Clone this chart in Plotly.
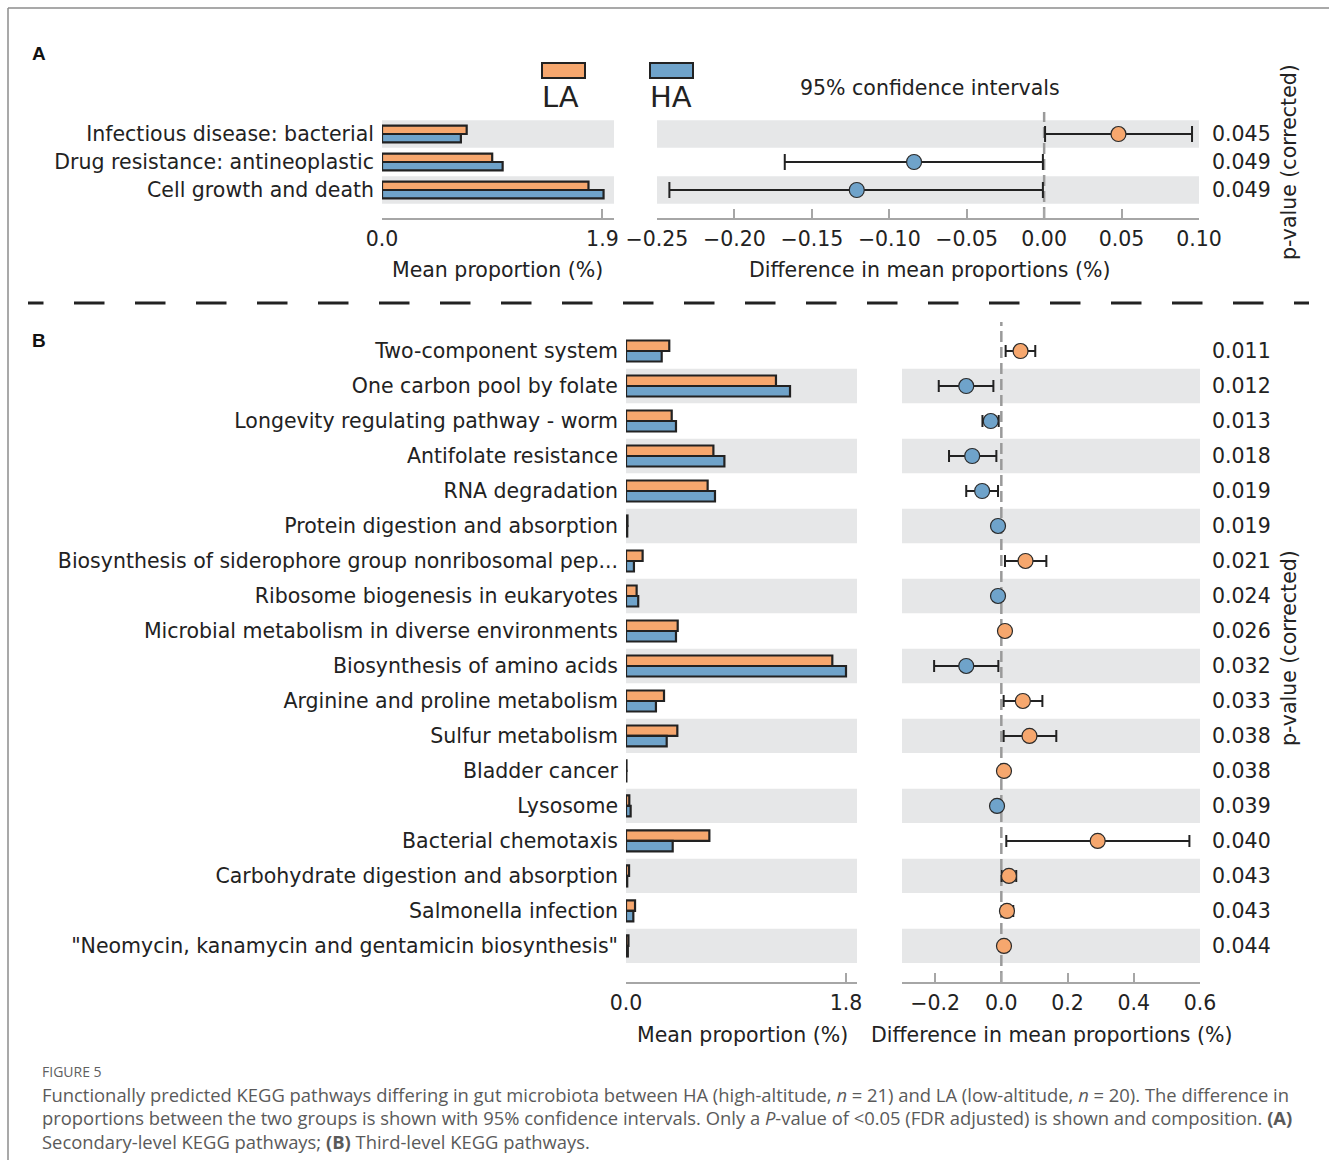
import plotly.graph_objects as go

W, H = 1329, 1171

LA_COLOR = "#F6A76E"
HA_COLOR = "#6FA3CA"
BAND = "#E6E7E8"
INK = "#222222"
AXIS_GREY = "#A6A6A6"
ZERO_GREY = "#9A9A9A"
FONT = "DejaVu Sans"
FS = 20.5
CAPTION_FONT = "Open Sans"

# ---- Panel A: secondary-level KEGG pathways ----
a_pathways = [
    "Infectious disease: bacterial",
    "Drug resistance: antineoplastic",
    "Cell growth and death",
]
a_mean_la = [0.73, 0.95, 1.78]
a_mean_ha = [0.68, 1.04, 1.91]
a_diff = [0.048, -0.084, -0.121]
a_ci_low = [0.0006, -0.1675, -0.242]
a_ci_high = [0.0955, -0.0008, -0.0008]
a_pvalues = ["0.045", "0.049", "0.049"]
a_bar_ticks = [0.0, 1.9]
a_diff_ticks = [-0.25, -0.20, -0.15, -0.10, -0.05, 0.00, 0.05, 0.10]

# ---- Panel B: third-level KEGG pathways ----
b_pathways = [
    "Two-component system",
    "One carbon pool by folate",
    "Longevity regulating pathway - worm",
    "Antifolate resistance",
    "RNA degradation",
    "Protein digestion and absorption",
    "Biosynthesis of siderophore group nonribosomal pep...",
    "Ribosome biogenesis in eukaryotes",
    "Microbial metabolism in diverse environments",
    "Biosynthesis of amino acids",
    "Arginine and proline metabolism",
    "Sulfur metabolism",
    "Bladder cancer",
    "Lysosome",
    "Bacterial chemotaxis",
    "Carbohydrate digestion and absorption",
    "Salmonella infection",
    "\"Neomycin, kanamycin and gentamicin biosynthesis\"",
]
b_mean_la = [0.354, 1.227, 0.374, 0.715, 0.668, 0.012, 0.136, 0.087, 0.423,
             1.688, 0.311, 0.420, 0.004, 0.027, 0.682, 0.025, 0.074, 0.020]
b_mean_ha = [0.292, 1.342, 0.409, 0.805, 0.728, 0.010, 0.065, 0.100, 0.409,
             1.800, 0.245, 0.333, 0.003, 0.038, 0.382, 0.010, 0.060, 0.015]
b_diff = [0.058, -0.106, -0.032, -0.088, -0.058, -0.010, 0.073, -0.010, 0.011,
          -0.106, 0.065, 0.085, 0.008, -0.013, 0.291, 0.023, 0.017, 0.008]
b_ci_low = [0.013, -0.189, -0.057, -0.158, -0.106, -0.012, 0.011, -0.012, 0.009,
            -0.203, 0.007, 0.007, 0.006, -0.015, 0.015, 0.001, 0.001, 0.006]
b_ci_high = [0.1025, -0.024, -0.008, -0.015, -0.010, -0.008, 0.136, -0.008, 0.013,
             -0.009, 0.124, 0.166, 0.010, -0.011, 0.568, 0.045, 0.036, 0.010]
b_pvalues = ["0.011", "0.012", "0.013", "0.018", "0.019", "0.019", "0.021", "0.024", "0.026",
             "0.032", "0.033", "0.038", "0.038", "0.039", "0.040", "0.043", "0.043", "0.044"]
b_bar_ticks = [0.0, 1.8]
b_diff_ticks = [-0.2, 0.0, 0.2, 0.4, 0.6]

caption_title = "FIGURE 5"
caption_lines = [
    "Functionally predicted KEGG pathways differing in gut microbiota between HA (high-altitude, <i>n</i> = 21) "
    "and LA (low-altitude, <i>n</i> = 20). The difference in",
    "proportions between the two groups is shown with 95% confidence intervals. Only a <i>P</i>-value of "
    "&lt;0.05 (FDR adjusted) is shown and composition. <b>(A)</b>",
    "Secondary-level KEGG pathways; <b>(B)</b> Third-level KEGG pathways.",
]


def px(x):
    return x / W


def py(y):
    return 1 - y / H


def fmt(v, nd):
    s = f"{v:.{nd}f}"
    return s.replace("-", "\u2212")


fig = go.Figure()
shapes = []
annotations = []


def add_panel(pathways, la, ha, diff, lo, hi, pvals, xbar, xdiff, yax, pval_label_y, cap):
    rows = list(range(len(pathways)))
    fig.add_trace(go.Bar(
        y=rows, x=la, orientation="h", xaxis=xbar, yaxis=yax,
        marker=dict(color=LA_COLOR, line=dict(color=INK, width=2.2)),
        showlegend=False, hoverinfo="skip",
    ))
    fig.add_trace(go.Bar(
        y=rows, x=ha, orientation="h", xaxis=xbar, yaxis=yax,
        marker=dict(color=HA_COLOR, line=dict(color=INK, width=2.2)),
        showlegend=False, hoverinfo="skip",
    ))
    colors = [LA_COLOR if d > 0 else HA_COLOR for d in diff]
    fig.add_trace(go.Scatter(
        x=diff, y=rows, mode="markers", xaxis=xdiff, yaxis=yax,
        marker=dict(size=15, color=colors, line=dict(color="#2A2A2A", width=1.2)),
        error_x=dict(type="data", symmetric=False,
                     array=[h - d for h, d in zip(hi, diff)],
                     arrayminus=[d - l for d, l in zip(diff, lo)],
                     color=INK, thickness=2, width=cap),
        showlegend=False, hoverinfo="skip",
    ))
    n = len(pathways)
    # alternate shaded rows, counted from the bottom row
    for i in rows:
        if (n - 1 - i) % 2 == 0:
            for xa in (xbar, xdiff):
                shapes.append(dict(type="rect", xref=f"{xa} domain", yref=yax,
                                   x0=0, x1=1, y0=i - 0.49, y1=i + 0.49,
                                   fillcolor=BAND, line=dict(width=0), layer="below"))
    shapes.append(dict(type="line", xref=xdiff, yref=f"{yax} domain",
                       x0=0, x1=0, y0=0, y1=1,
                       line=dict(color=ZERO_GREY, width=2.5, dash="11px,5px"), layer="below"))
    for i, p in zip(rows, pvals):
        annotations.append(dict(text=p, xref="paper", yref=yax, x=px(1210), y=i,
                                xanchor="left", yanchor="middle", showarrow=False,
                                font=dict(family=FONT, size=FS, color=INK)))
    annotations.append(dict(text="p-value (corrected)", xref="paper", yref="paper",
                            x=px(1289), y=py(pval_label_y), textangle=-90,
                            xanchor="center", yanchor="middle", showarrow=False,
                            font=dict(family=FONT, size=FS, color=INK)))


add_panel(a_pathways, a_mean_la, a_mean_ha, a_diff, a_ci_low, a_ci_high, a_pvalues,
          "x", "x2", "y", 162, 8)
add_panel(b_pathways, b_mean_la, b_mean_ha, b_diff, b_ci_low, b_ci_high, b_pvalues,
          "x3", "x4", "y2", 648, 6)

tickfont = dict(family=FONT, size=FS, color=INK)


def xaxis_cfg(dom, rng, ticks, nd, anchor):
    return dict(domain=[px(dom[0]), px(dom[1])], range=rng, anchor=anchor,
                tickvals=ticks, ticktext=[fmt(t, nd) for t in ticks],
                ticks="inside", ticklen=9, tickwidth=1.5, tickcolor=AXIS_GREY,
                showline=True, linecolor=AXIS_GREY, linewidth=2,
                showgrid=False, zeroline=False, tickfont=tickfont,
                ticklabelstandoff=1, automargin=False, fixedrange=True)


def yaxis_cfg(top, bottom, rng, labels, anchor):
    return dict(domain=[py(bottom), py(top)], range=rng, anchor=anchor,
                tickvals=list(range(len(labels))), ticktext=labels,
                ticks="", showline=False, showgrid=False, zeroline=False,
                tickfont=tickfont, ticklabelstandoff=7, automargin=False, fixedrange=True)


fig.update_layout(
    width=W, height=H,
    margin=dict(l=0, r=0, t=0, b=0, pad=0, autoexpand=False),
    paper_bgcolor="white", plot_bgcolor="rgba(0,0,0,0)",
    barmode="group", bargap=0.4, bargroupgap=0,
    font=dict(family=FONT, color=INK),
    xaxis=xaxis_cfg((382, 614), [0, 2.0], a_bar_ticks, 1, "y"),
    xaxis2=xaxis_cfg((657, 1199), [-0.25, 0.10], a_diff_ticks, 2, "y"),
    yaxis=yaxis_cfg(112, 218, [3.0, -0.786], a_pathways, "x"),
    xaxis3=xaxis_cfg((626, 857), [0, 1.89], b_bar_ticks, 1, "y2"),
    xaxis4=xaxis_cfg((902, 1200), [-0.3, 0.6], b_diff_ticks, 1, "y2"),
    yaxis2=yaxis_cfg(322, 982, [18.03, -0.829], b_pathways, "x3"),
)

# legend swatches
for x0, label, color in ((542, "LA", LA_COLOR), (650, "HA", HA_COLOR)):
    shapes.append(dict(type="rect", xref="paper", yref="paper",
                       x0=px(x0), x1=px(x0 + 43), y0=py(78), y1=py(63),
                       fillcolor=color, line=dict(color=INK, width=2)))
    annotations.append(dict(text=label, xref="paper", yref="paper", x=px(x0 - 2), y=py(97),
                            xanchor="left", yanchor="middle", showarrow=False,
                            font=dict(family=FONT, size=29, color=INK)))

annotations.append(dict(text="95% confidence intervals", xref="paper", yref="paper",
                        x=px(930), y=py(88), xanchor="center", yanchor="middle",
                        showarrow=False, font=dict(family=FONT, size=FS, color=INK)))

for txt, x, y in (("Mean proportion (%)", 498, 270),
                  ("Difference in mean proportions (%)", 930, 270),
                  ("Mean proportion (%)", 742, 1035),
                  ("Difference in mean proportions (%)", 1052, 1035)):
    annotations.append(dict(text=txt, xref="paper", yref="paper", x=px(x), y=py(y),
                            xanchor="center", yanchor="middle", showarrow=False,
                            font=dict(family=FONT, size=FS, color=INK)))

for txt, y in (("A", 53), ("B", 340)):
    annotations.append(dict(text=f"<b>{txt}</b>", xref="paper", yref="paper", x=px(30), y=py(y),
                            xanchor="left", yanchor="middle", showarrow=False,
                            font=dict(family="Liberation Sans", size=19, color="#111111")))

# dashed separator between the panels
sep_dash = "15.5px,30.5px," + ",".join(["30.5px,30.5px"] * 22)
shapes.append(dict(type="line", xref="paper", yref="paper",
                   x0=px(28), x1=px(1309), y0=py(303), y1=py(303),
                   line=dict(color=INK, width=3, dash=sep_dash)))

# outer frame (top and left rules)
shapes.append(dict(type="line", xref="paper", yref="paper", x0=px(8), x1=1, y0=py(8), y1=py(8),
                   line=dict(color="#8C8C8C", width=1.5)))
shapes.append(dict(type="line", xref="paper", yref="paper", x0=px(8), x1=px(8), y0=py(8), y1=py(1160),
                   line=dict(color="#8C8C8C", width=1.5)))

# caption
annotations.append(dict(text=caption_title, xref="paper", yref="paper", x=px(40), y=py(1071),
                        xanchor="left", yanchor="middle", showarrow=False,
                        font=dict(family=CAPTION_FONT, size=14, color="#606060")))
for k, line in enumerate(caption_lines):
    annotations.append(dict(text=line, xref="paper", yref="paper", x=px(40), y=py(1094 + 23.5 * k),
                            xanchor="left", yanchor="middle", showarrow=False, align="left",
                            font=dict(family=CAPTION_FONT, size=18.4, color="#5A5A5A")))

fig.update_layout(shapes=shapes, annotations=annotations)
fig.write_html("out.html")
